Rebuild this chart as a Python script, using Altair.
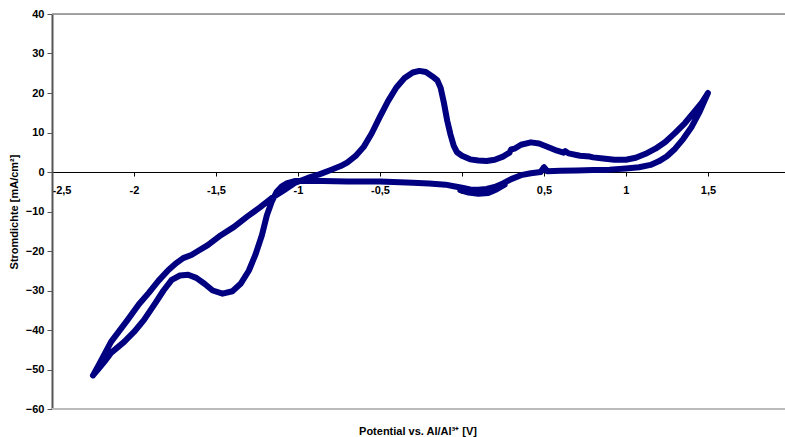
import altair as alt
import pandas as pd

# Positive-going scan (from most negative potential up to +1.5 V)
up_x = [-2.25, -2.21, -2.14, -2.04, -1.97, -1.91, -1.85, -1.79, -1.74, -1.70, -1.65, -1.61,
        -1.55, -1.47, -1.39, -1.31, -1.23, -1.16, -1.085, -1.02, -0.94, -0.87, -0.80, -0.74,
        -0.70, -0.65, -0.60, -0.55, -0.50, -0.45, -0.40, -0.35, -0.30, -0.26, -0.22, -0.18,
        -0.15, -0.13, -0.11, -0.09, -0.07, -0.05, -0.03, 0.00, 0.05, 0.10, 0.15, 0.20, 0.25,
        0.29, 0.30, 0.32, 0.36, 0.42, 0.47, 0.52, 0.58, 0.62, 0.63, 0.65, 0.72, 0.78, 0.80,
        0.86, 0.93, 1.00, 1.06, 1.12, 1.18, 1.24, 1.30, 1.36, 1.42, 1.46, 1.50]
up_y = [-51.5, -48.5, -43.0, -37.5, -33.5, -30.6, -27.5, -24.8, -23.0, -21.8, -21.0, -20.0,
        -18.5, -16.0, -13.9, -11.3, -8.9, -6.6, -4.6, -2.8, -1.5, -0.6, 0.5, 1.5,
        2.4, 4.0, 6.3, 9.8, 14.0, 18.0, 21.4, 23.8, 25.2, 25.6, 25.3, 24.2,
        23.2, 21.3, 17.5, 13.0, 9.5, 6.6, 5.0, 4.1, 3.2, 2.9, 2.8, 3.1, 3.9,
        4.9, 5.7, 5.9, 6.9, 7.5, 7.2, 6.4, 5.4, 4.9, 5.3, 4.7, 4.1, 3.9, 3.7,
        3.4, 3.1, 3.1, 3.6, 4.6, 5.9, 7.6, 9.9, 12.4, 15.4, 17.4, 20.0]

# Negative-going scan (from +1.5 V back to the most negative potential)
down_x = [1.45, 1.40, 1.35, 1.30, 1.25, 1.20, 1.15, 1.08, 1.00, 0.90, 0.80, 0.70, 0.60,
          0.52, 0.50, 0.48, 0.42, 0.36, 0.30, 0.25, 0.20, 0.15, 0.10, 0.05, 0.00, -0.05,
          -0.10, -0.20, -0.30, -0.50, -0.70, -0.85, -0.95, -1.02, -1.07, -1.10, -1.13,
          -1.16, -1.19, -1.22, -1.26, -1.30, -1.35, -1.40, -1.46, -1.52, -1.57, -1.62,
          -1.67, -1.72, -1.77, -1.82, -1.87, -1.94, -2.00, -2.06, -2.14, -2.18, -2.22, -2.25]
down_y = [15.3, 11.4, 8.4, 5.9, 4.0, 2.7, 1.8, 1.2, 0.9, 0.6, 0.5, 0.4, 0.3,
          0.2, 1.2, 0.0, -0.3, -0.8, -1.8, -2.9, -3.8, -4.3, -4.5, -4.4, -4.0, -3.6,
          -3.2, -2.9, -2.7, -2.4, -2.4, -2.3, -2.2, -2.3, -2.9, -3.7, -5.0,
          -7.5, -11.0, -16.0, -21.0, -25.0, -28.3, -30.2, -30.8, -30.0, -28.3, -26.8,
          -26.0, -26.2, -27.3, -30.0, -33.2, -37.5, -40.5, -43.0, -45.8, -48.0, -50.0, -51.5]

# Short starting segment near 0 V
start_x = [-0.01, 0.04, 0.10, 0.16, 0.21, 0.26]
start_y = [-4.6, -5.2, -5.5, -5.3, -4.4, -3.2]

x_ticks = [-2.5, -2.0, -1.5, -1.0, -0.5, 0.0, 0.5, 1.0, 1.5]
y_ticks = [-60, -50, -40, -30, -20, -10, 0, 10, 20, 30, 40]

rows = []
k = 0
for seg, xs_, ys_ in [("start", start_x, start_y), ("loop", up_x + down_x, up_y + down_y)]:
    for xv, yv in zip(xs_, ys_):
        rows.append({"seg": seg, "E": xv, "I": yv, "o": k})
        k += 1
df = pd.DataFrame(rows)

W, H = 733, 395
FONT = "Liberation Sans"
xscale = alt.Scale(domain=[-2.5, 1.97], nice=False, zero=False)
yscale = alt.Scale(domain=[-60, 40], nice=False, zero=False)

y_axis = alt.Axis(
    values=y_ticks, grid=False, labelOverlap=False,
    labelFont=FONT, labelFontSize=11, labelFontWeight="bold", labelColor="#000",
    labelPadding=3, tickSize=5, tickColor="#555", domainColor="#555", domainWidth=2,
    title="Stromdichte [mA/cm²]", titleFont=FONT, titleFontSize=11,
    titleFontWeight="bold", titleColor="#000", titleX=-38, titleY=H / 2,
    titleAngle=270, titleAlign="center", titleBaseline="middle")

x_axis = alt.Axis(
    values=x_ticks, offset=-237, grid=False, labelOverlap=False,
    labelExpr="replace(toString(datum.value), '.', ',')",
    labelFont=FONT, labelFontSize=11, labelFontWeight="bold", labelColor="#000",
    labelPadding=8, tickSize=4, tickColor="#000", domainColor="#000", domainWidth=1,
    title="Potential vs. Al/Al³⁺ [V]", titleFont=FONT, titleFontSize=11,
    titleFontWeight="bold", titleColor="#000", titleY=259, titleBaseline="middle",
    titleX=W / 2 - 1, titleAlign="center")

line = alt.Chart(df).mark_line(
    color="#000080", strokeWidth=6, strokeCap="round", strokeJoin="round"
).encode(
    x=alt.X("E:Q", scale=xscale, axis=x_axis),
    y=alt.Y("I:Q", scale=yscale, axis=y_axis),
    detail="seg:N",
    order="o:Q",
)

top_border = alt.Chart(pd.DataFrame({"b": [40]})).mark_rule(
    color="#888", strokeWidth=1.5
).encode(y=alt.Y("b:Q", scale=yscale, axis=y_axis))

bottom_border = alt.Chart(pd.DataFrame({"b": [-60]})).mark_rule(
    color="#bbb", strokeWidth=2
).encode(y=alt.Y("b:Q", scale=yscale, axis=y_axis))

chart = alt.layer(line, top_border, bottom_border).properties(
    width=W, height=H,
    padding={"left": 52, "top": 14, "right": 0, "bottom": 28},
    autosize="none",
).configure_view(stroke=None).configure(background="white")

chart.save("out.html", embed_options={"renderer": "svg", "actions": False})
